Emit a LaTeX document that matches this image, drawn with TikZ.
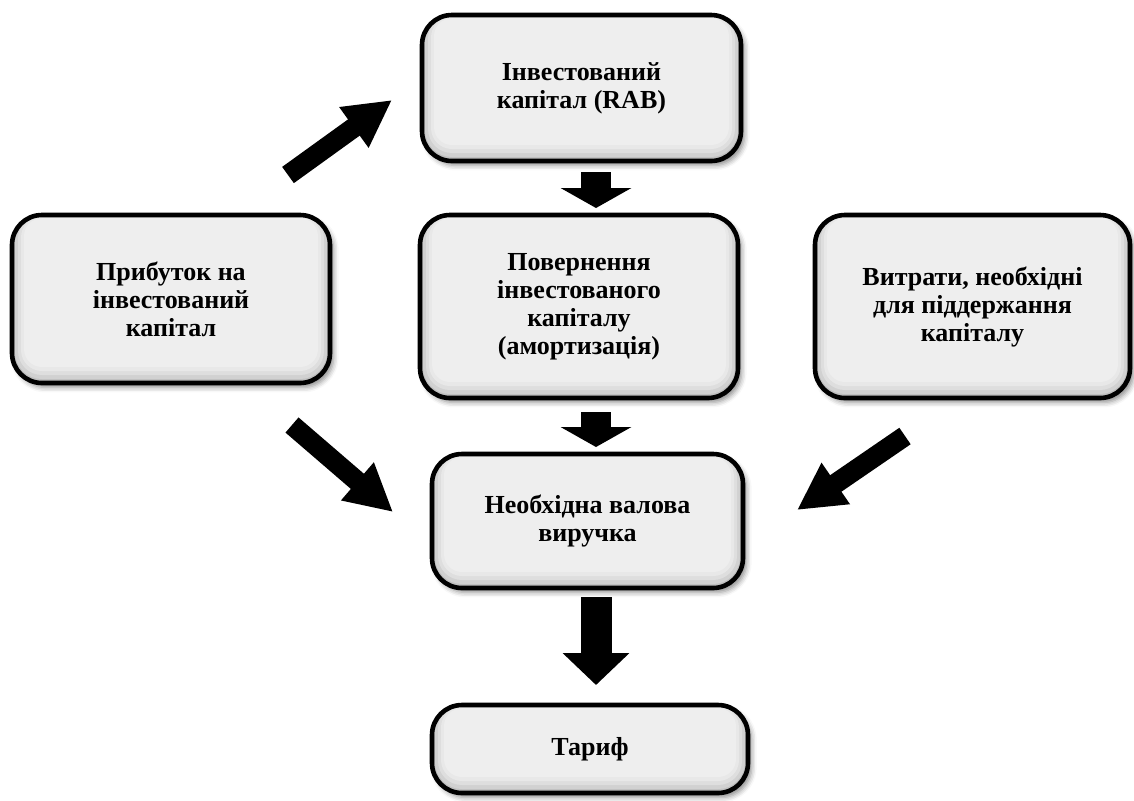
\documentclass[tikz,border=0pt]{standalone}
\usepackage{fontspec}
\setmainfont{Liberation Serif}
\usepackage{tikz}
\usetikzlibrary{arrows.meta,shadows.blur}

\begin{document}
\begin{tikzpicture}[x=0.5pt, y=-0.5pt,
    box/.style={draw=black, line width=2.3pt, rounded corners=15pt, fill=gray!13,
      align=center, inner sep=0pt, font=\fontsize{13}{14}\selectfont\bfseries,
      blur shadow={shadow xshift=1.8pt, shadow yshift=-2.2pt, shadow blur radius=2.5pt, shadow opacity=45},
      path picture={
        \foreach \l/\t/\b/\r/\c in {0/0/0/15/50, 1.5/0/2/13.5/36, 3/0/4/12/26, 4.5/0.8/6/10.5/18, 6/1.6/8/9/13}
          \fill[gray!\c, rounded corners=\r pt]
            ([xshift=\l pt, yshift=\b pt]path picture bounding box.south west) rectangle
            ([xshift=-\l pt, yshift=-\t pt]path picture bounding box.north east);
      }},
    diag/.style={line width=10pt, -{Triangle[width=23.5pt, length=23.5pt]}},
    smalldown/.style={line width=15pt, -{Triangle[width=35pt, length=10pt]}},
    bigdown/.style={line width=15.5pt, -{Triangle[width=32.5pt, length=16pt]}}
  ]
  \useasboundingbox (0,0) rectangle (1134,800);

  % boxes
  \node[box, minimum width=159.5pt, minimum height=73pt] (rab) at (581.5,88) {Інвестований\\капітал (RAB)};
  \node[box, minimum width=159pt, minimum height=91.5pt] (amort) at (579,306.5) {Повернення\\інвестованого\\капіталу\\(амортизація)};
  \node[box, minimum width=159pt, minimum height=84pt] (profit) at (171,299) {Прибуток на\\інвестований\\капітал};
  \node[box, minimum width=157.5pt, minimum height=91.5pt] (costs) at (972.5,306.5) {Витрати, необхідні\\для піддержання\\капіталу};
  \node[box, minimum width=155.5pt, minimum height=67pt] (nvv) at (587.5,521) {Необхідна валова\\виручка};
  \node[box, minimum width=158pt, minimum height=44pt] (tariff) at (590,749) {Тариф};

  % arrow ends
  \coordinate (profit-up) at (288,175);
  \coordinate (rab-in) at (392,100);
  \coordinate (rab-out) at (596,172);
  \coordinate (amort-in) at (596,208);
  \coordinate (amort-out) at (596,412);
  \coordinate (nvv-top) at (596,447);
  \coordinate (profit-down) at (292,425);
  \coordinate (nvv-left) at (393,512);
  \coordinate (costs-down) at (905,436);
  \coordinate (nvv-right) at (797,510);
  \coordinate (nvv-out) at (596,597);
  \coordinate (tariff-in) at (596,685);

  \draw[diag] (profit-up) -- (rab-in);
  \draw[smalldown] (rab-out) -- (amort-in);
  \draw[smalldown] (amort-out) -- (nvv-top);
  \draw[diag] (profit-down) -- (nvv-left);
  \draw[diag] (costs-down) -- (nvv-right);
  \draw[bigdown] (nvv-out) -- (tariff-in);
\end{tikzpicture}
\end{document}
